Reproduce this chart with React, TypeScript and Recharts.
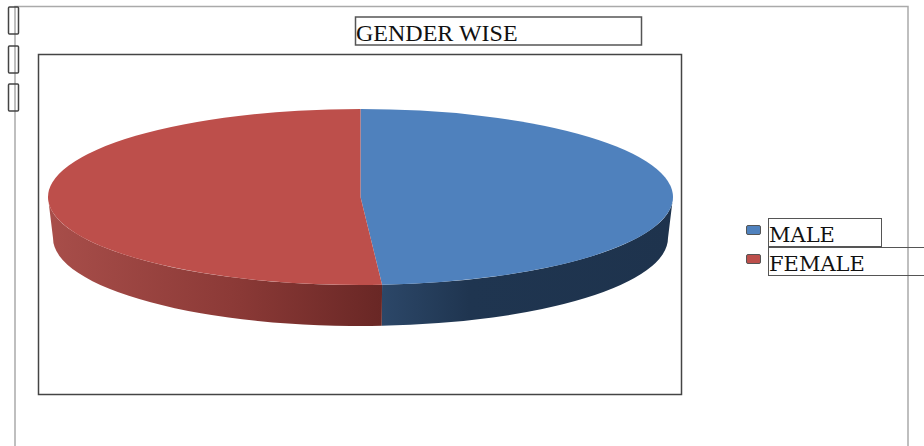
import { PieChart, Pie, Cell, Legend } from "recharts";

const CATEGORIES = ["MALE", "FEMALE"];
const SHARES = [48.9, 51.1];
const TOP_COLORS = ["#4f81bd", "#bd4f4b"];
const CHART_TITLE = "GENDER WISE";

const rows = CATEGORIES.map((name, i) => ({ name, value: SHARES[i] }));

// the disc is a circle of this radius, flattened vertically when drawn
const RADIUS = 312.5;
const SQUASH = 0.2816;
const DEPTH = 41;
// lower rim is a little narrower, which gives the slab some perspective
const RIM_INSET = 5;
const CX = 360.5;
const CY = 197;

const rad = (deg: number) => (deg * Math.PI) / 180;
const px = (cx: number, r: number, a: number) => cx + r * Math.cos(rad(a));
const py = (cy: number, r: number, a: number) => cy - r * SQUASH * Math.sin(rad(a));

function Slice3D(props: any) {
	const { cx, cy, outerRadius: r, startAngle, endAngle, index, fill } = props;
	const ry = r * SQUASH;
	const rb = r - RIM_INSET;
	const large = Math.abs(startAngle - endAngle) > 180 ? 1 : 0;
	const top =
		`M${cx},${cy} L${px(cx, r, startAngle)},${py(cy, r, startAngle)} ` +
		`A${r},${ry} 0 ${large} 1 ${px(cx, r, endAngle)},${py(cy, r, endAngle)} Z`;

	// only the part of the rim facing the viewer gets a wall
	const hi = Math.min(startAngle, 0);
	const lo = Math.max(endAngle, -180);
	const wall =
		`M${px(cx, r, hi)},${py(cy, r, hi)} A${r},${ry} 0 0 1 ${px(cx, r, lo)},${py(cy, r, lo)} ` +
		`L${px(cx, rb, lo)},${py(cy, r, lo) + DEPTH} ` +
		`A${rb},${ry} 0 0 0 ${px(cx, rb, hi)},${py(cy, r, hi) + DEPTH} Z`;

	return (
		<g>
			<path d={wall} fill={`url(#wall-${index})`} stroke="none" />
			<path d={top} fill={fill} stroke="none" />
		</g>
	);
}

function LegendBoxes({ payload }: any) {
	return (
		<div style={{ position: "relative", width: 184, height: 60 }}>
			{(payload ?? []).map((entry: any, i: number) => (
				<div key={entry.value}>
					<span
						style={{
							position: "absolute",
							left: 6,
							top: 9 + i * 29,
							width: 13,
							height: 8,
							background: entry.color,
							border: "1.5px solid #555",
							borderRadius: 2,
						}}
					/>
					<span
						style={{
							position: "absolute",
							left: 28,
							top: 2 + i * 29,
							width: i === 0 ? 112 : 156,
							height: 27,
							border: "1.5px solid #555",
							borderRight: i === 0 ? "1.5px solid #555" : "none",
							fontFamily: "'DejaVu Serif', serif",
							fontSize: 21,
							lineHeight: "33px",
							color: "#111",
							boxSizing: "content-box",
							whiteSpace: "nowrap",
							overflow: "hidden",
						}}
					>
						{entry.value}
					</span>
				</div>
			))}
		</div>
	);
}

export default function App() {
	return (
		<div style={{ position: "absolute", left: 0, top: 0, width: 924, height: 446, overflow: "hidden", background: "#fff" }}>
			<PieChart width={924} height={446} margin={{ top: 0, right: 0, bottom: 0, left: 0 }}>
				<defs>
					<linearGradient id="wall-0" gradientUnits="userSpaceOnUse" x1={382} x2={673} y1={0} y2={0}>
						<stop offset="0" stopColor="#2c4768" />
						<stop offset="0.3" stopColor="#1f3550" />
						<stop offset="1" stopColor="#1e334d" />
					</linearGradient>
					<linearGradient id="wall-1" gradientUnits="userSpaceOnUse" x1={48} x2={382} y1={0} y2={0}>
						<stop offset="0" stopColor="#a84e4a" />
						<stop offset="0.55" stopColor="#8c3a37" />
						<stop offset="1" stopColor="#692725" />
					</linearGradient>
				</defs>

				{/* page frame, open along the bottom */}
				<path d="M15,446 V6.5 H908 V446" fill="none" stroke="#aaa" strokeWidth={1.5} />
				{[7, 46, 84].map((y) => (
					<rect key={y} x={8.5} y={y} width={10} height={27} rx={1} fill="none" stroke="#444" strokeWidth={1.5} />
				))}

				<rect x={355.5} y={17} width={286} height={28} fill="#fff" stroke="#555" strokeWidth={1.5} />
				<text x={356} y={41} fontFamily="'Liberation Serif', serif" fontSize={24} fill="#111">
					{CHART_TITLE}
				</text>

				<rect x={38.5} y={54.5} width={643} height={340} fill="#fff" stroke="#444" strokeWidth={1.5} />

				<Pie
					data={rows}
					dataKey="value"
					nameKey="name"
					cx={CX}
					cy={CY}
					innerRadius={0}
					outerRadius={RADIUS}
					startAngle={90}
					endAngle={-270}
					stroke="none"
					isAnimationActive={false}
					shape={Slice3D}
				>
					{rows.map((row, i) => (
						<Cell key={row.name} fill={TOP_COLORS[i]} />
					))}
				</Pie>

				<Legend
					content={<LegendBoxes />}
					itemSorter={null}
					wrapperStyle={{ position: "absolute", left: 740, top: 216, width: 184, height: 60 }}
				/>
			</PieChart>
		</div>
	);
}
